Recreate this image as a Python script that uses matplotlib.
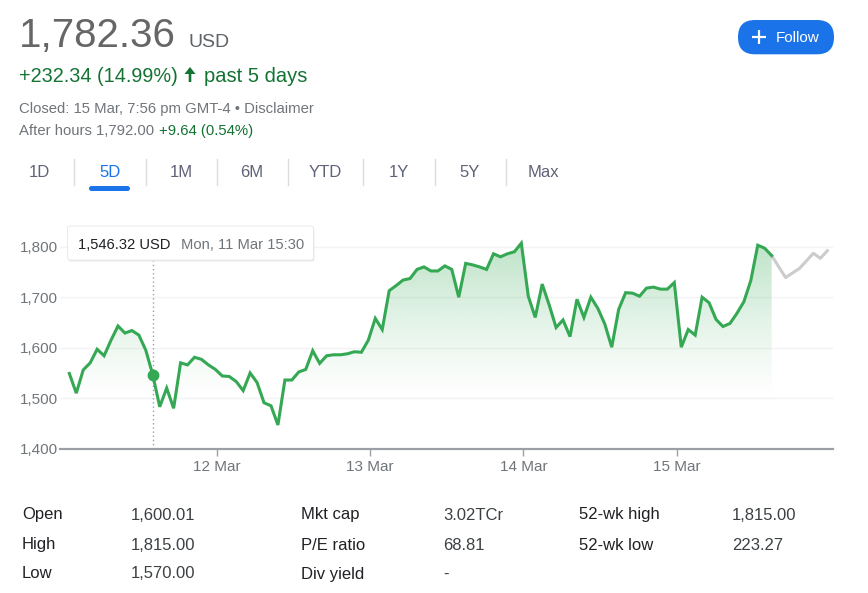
import numpy as np
import matplotlib
matplotlib.use("Agg")
import matplotlib.pyplot as plt
from matplotlib.patches import FancyBboxPatch, PathPatch, FancyArrow

plt.rcParams['font.family'] = ['Liberation Sans', 'DejaVu Sans']

# ---------------- data ----------------
prices = [1549, 1510, 1556, 1570, 1597, 1584, 1615, 1643, 1629, 1634, 1625, 1595,
          1546.32, 1483, 1520, 1480, 1570, 1566, 1581, 1577, 1566, 1557, 1544, 1543,
          1533, 1515, 1550, 1531, 1491, 1485, 1447, 1536, 1536, 1552, 1557, 1594,
          1569, 1584, 1586, 1586, 1588, 1592, 1591, 1615, 1658, 1636, 1713, 1723,
          1734, 1737, 1755, 1760, 1752, 1752, 1762, 1755, 1700, 1767, 1764, 1760,
          1755, 1786, 1780, 1786, 1790, 1807, 1702, 1660, 1726, 1685, 1640, 1655,
          1622, 1696, 1660, 1700, 1678, 1647, 1601, 1676, 1709, 1708, 1702, 1718,
          1720, 1716, 1716, 1729, 1601, 1636, 1625, 1700, 1689, 1656, 1642, 1648,
          1668, 1691, 1733, 1803, 1797, 1782.36]
ah_x = [101, 103, 105, 107, 108, 109]
ah_prices = [1782.36, 1739, 1757, 1787, 1777, 1792.00]
hover_index = 12

x_tick_pos = [21.24, 43.24, 65.3, 87.35]
x_tick_labels = ['12 Mar', '13 Mar', '14 Mar', '15 Mar']
y_ticks = [1400, 1500, 1600, 1700, 1800]
y_tick_labels = ['1,400', '1,500', '1,600', '1,700', '1,800']

tabs = ['1D', '5D', '1M', '6M', 'YTD', '1Y', '5Y', 'Max']
active_tab = '5D'

stat_labels_1 = ['Open', 'High', 'Low']
stat_values_1 = ['1,600.01', '1,815.00', '1,570.00']
stat_labels_2 = ['Mkt cap', 'P/E ratio', 'Div yield']
stat_values_2 = ['3.02TCr', '68.81', '-']
stat_labels_3 = ['52-wk high', '52-wk low']
stat_values_3 = ['1,815.00', '223.27']

price_text = '1,782.36'
currency = 'USD'
change_text = '+232.34 (14.99%)'
period_text = 'past 5 days'
closed_text = 'Closed: 15 Mar, 7:56 pm GMT-4 \u2022 Disclaimer'
ah_label = 'After hours 1,792.00'
ah_change = '+9.64 (0.54%)'
tooltip_price = '1,546.32 USD'
tooltip_date = 'Mon, 11 Mar 15:30'

# ---------------- styles ----------------
GREEN = '#34a853'
DKGREEN = '#137333'
GRAY = '#70757a'
BLUE = '#1a73e8'

W, H = 868, 593
fig = plt.figure(figsize=(W / 100, H / 100), dpi=100)
fig.patch.set_facecolor('white')

# chart axes (pixel-based placement)
ax_l, ax_r, ax_b, ax_t = 60, 833, 448.7, 230
ax = fig.add_axes([ax_l / W, (H - ax_b) / H, (ax_r - ax_l) / W, (ax_b - ax_t) / H])
ax.set_facecolor('white')

x = np.arange(len(prices))
ax.plot(x, prices, color=GREEN, lw=2.2, zorder=4, solid_joinstyle='miter')
ax.plot(ah_x, ah_prices, color='#cccccc', lw=2.2, zorder=3)

# gradient fill under the green line
base = 1500
poly = ax.fill_between(x, prices, base, facecolor='none', edgecolor='none')
clip = PathPatch(poly.get_paths()[0], transform=ax.transData, facecolor='none', edgecolor='none')
ax.add_patch(clip)
grad_top = 1815
n = 256
alpha = np.linspace(0.0, 0.33, n) ** 1.2 / (0.33 ** 0.2)
img = np.zeros((n, 2, 4))
img[..., 0] = 52 / 255
img[..., 1] = 168 / 255
img[..., 2] = 83 / 255
img[..., 3] = alpha[:, None]
im = ax.imshow(img, extent=[x[0], x[-1], base, grad_top], origin='lower',
               aspect='auto', zorder=2, interpolation='bilinear')
im.set_clip_path(clip)

# hover marker
ax.axvline(x[hover_index], ymin=0, ymax=(1771 - 1400) / (1833.1 - 1400),
           color='#9aa0a6', lw=1, ls=(0, (1, 2)), zorder=3)
ax.plot([x[hover_index]], [prices[hover_index]], 'o', color=GREEN, ms=7.5, zorder=5)

ax.set_xlim(-1.34, 109.82)
ax.set_ylim(1400, 1833.1)
ax.set_yticks(y_ticks)
ax.set_yticklabels(y_tick_labels)
ax.set_xticks(x_tick_pos)
ax.set_xticklabels(x_tick_labels)
ax.tick_params(axis='y', length=0, pad=1.5, labelsize=11, labelcolor=GRAY)
ax.tick_params(axis='x', length=5, width=1, color='#9aa0a6', pad=3,
               labelsize=11, labelcolor=GRAY)
for s in ['top', 'right', 'left']:
    ax.spines[s].set_visible(False)
ax.spines['bottom'].set_color('#9aa0a6')
ax.spines['bottom'].set_linewidth(1.6)
ax.spines['bottom'].set_zorder(6)
ax.yaxis.grid(True, color='#f1f3f4', lw=1)
ax.set_axisbelow(True)

# ---------------- overlay (pixel coordinates) ----------------
ov = fig.add_axes([0, 0, 1, 1], zorder=10)
ov.set_xlim(0, W)
ov.set_ylim(H, 0)
ov.axis('off')
ov.patch.set_alpha(0)

ov.text(19, 46.7, price_text, fontsize=29, color='#666666', va='baseline', ha='left')
ov.text(189, 46.7, currency, fontsize=14, color='#5f6368', va='baseline', ha='left')
ov.text(19, 81.7, change_text, fontsize=14.3, color=DKGREEN, va='baseline', ha='left')
ov.add_patch(FancyArrow(190, 82, 0, -15, width=2.6, head_width=11, head_length=7,
                        length_includes_head=True, color=DKGREEN, lw=0))
ov.text(204, 81.7, period_text, fontsize=14.5, color=DKGREEN, va='baseline', ha='left')
ov.text(19, 113.3, closed_text, fontsize=10.7, color=GRAY, va='baseline', ha='left')
ov.text(19, 135, ah_label, fontsize=10.7, color=GRAY, va='baseline', ha='left')
ov.text(159, 135, ah_change, fontsize=10.7, color=DKGREEN, va='baseline', ha='left')

# follow button
ov.add_patch(FancyBboxPatch((738, 20), 96, 34.3,
                            boxstyle='round,pad=0,rounding_size=17',
                            facecolor=BLUE, edgecolor='none'))
ov.plot([752, 766], [37.2, 37.2], color='white', lw=1.6, solid_capstyle='butt')
ov.plot([759, 759], [30.2, 44.2], color='white', lw=1.6, solid_capstyle='butt')
ov.text(776, 37.5, 'Follow', fontsize=11, color='white', va='center', ha='left')

# tabs
tab_centers = [39.5, 110, 181.5, 252, 325, 398.5, 470, 543]
seps = [74, 145.7, 216.7, 287.7, 363.3, 434.7, 505.7]
for t, cx in zip(tabs, tab_centers):
    ov.text(cx, 177, t, fontsize=12, color=(BLUE if t == active_tab else '#606378'),
            va='baseline', ha='center')
for sx in seps:
    ov.plot([sx, sx], [159.3, 185], color='#dadce0', lw=1)
ov.add_patch(FancyBboxPatch((89, 186), 41, 5, boxstyle='round,pad=0,rounding_size=2.5',
                            facecolor=BLUE, edgecolor='none'))

# tooltip
ov.add_patch(FancyBboxPatch((68.5, 227.5), 246, 34, boxstyle='round,pad=0,rounding_size=2',
                            facecolor='#000000', alpha=0.08, edgecolor='none'))
ov.add_patch(FancyBboxPatch((67.5, 226), 246, 34, boxstyle='round,pad=0,rounding_size=2',
                            facecolor='white', edgecolor='#e6e6e6', lw=0.6))
ov.text(78.3, 249, tooltip_price, fontsize=10.6, color='#202124', va='baseline', ha='left')
ov.text(180.7, 249, tooltip_date, fontsize=10.6, color=GRAY, va='baseline', ha='left')

# statistics table
row_y = [519.5, 549.5, 578.5]
cols = [(22, 131, stat_labels_1, stat_values_1),
        (301, 443, stat_labels_2, stat_values_2),
        (579, 732, stat_labels_3, stat_values_3)]
for lx, vx, labs, vals in cols:
    for ry, lab, val in zip(row_y, labs, vals):
        ov.text(lx, ry, lab, fontsize=12, color='#202124', va='baseline', ha='left')
        ov.text(vx, ry, val, fontsize=12, color='#3c4043', va='baseline', ha='left')

fig.savefig('out.png', dpi=100, facecolor='white')
